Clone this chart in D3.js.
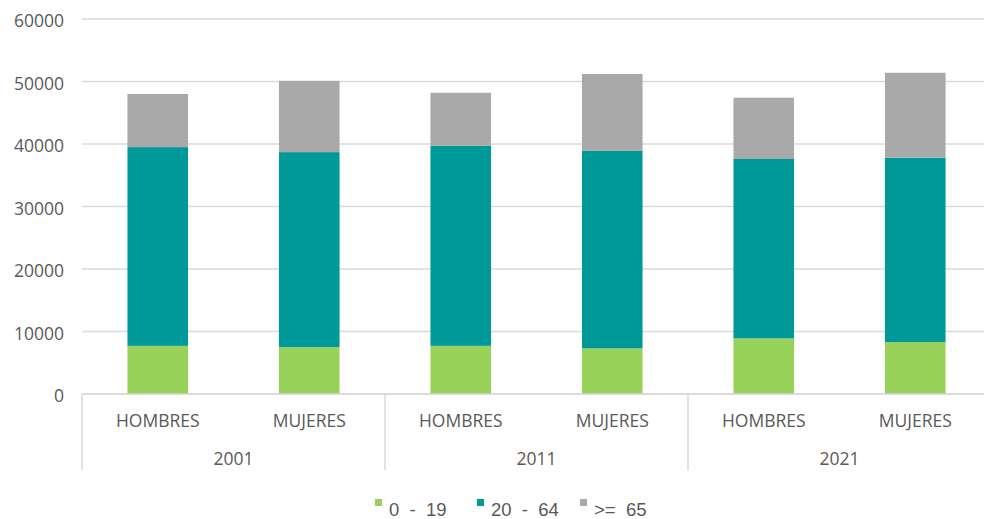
<!DOCTYPE html>
<html><head><meta charset="utf-8">
<script src="https://cdn.jsdelivr.net/npm/d3@7"></script>
<style>body{margin:0;background:#fff}svg{display:block}</style>
</head><body>
<svg id="c" width="984" height="519"></svg>
<script>
const years = ["2001","2011","2021"];
const sexes = ["HOMBRES","MUJERES"];
const categories = ["2001|HOMBRES","2001|MUJERES","2011|HOMBRES","2011|MUJERES","2021|HOMBRES","2021|MUJERES"];
const seriesNames = ["0 - 19","20 - 64",">= 65"];
const age0_19  = [7700, 7500, 7700, 7300, 8900, 8300];
const age20_64 = [31800, 31200, 32000, 31600, 28700, 29500];
const age65    = [8500, 11400, 8500, 12300, 9800, 13600];
const yTicks = [0,10000,20000,30000,40000,50000,60000];
const colors = ["#99d25a","#009999","#a9a9a9"];

const svg = d3.select("#c");
const left = 82, right = 991, y0 = 394, yTop = 19;
const x = d3.scaleBand().domain(categories).range([left,right]).paddingInner(0.6).paddingOuter(0.3);
const y = d3.scaleLinear().domain([0,60000]).range([y0,yTop]);

// gridlines
svg.append("g").selectAll("line").data(yTicks).join("line")
  .attr("x1",left).attr("x2",984).attr("y1",d=>y(d)).attr("y2",d=>y(d))
  .attr("stroke","#dadada").attr("stroke-width",1.5);

// y axis labels
const ya = svg.append("g").attr("transform",`translate(${left},0)`)
  .call(d3.axisLeft(y).tickValues(yTicks).tickSize(0).tickPadding(18).tickFormat(d3.format("d")));
ya.select(".domain").remove();
ya.selectAll("text").attr("font-family","Open Sans").attr("font-size",17.5).attr("fill","#595959").attr("dy","0.45em");

// stacked bars
const table = categories.map((c,i)=>({cat:c, "0 - 19":age0_19[i], "20 - 64":age20_64[i], ">= 65":age65[i]}));
const stack = d3.stack().keys(seriesNames)(table);
svg.append("g").selectAll("g").data(stack).join("g").attr("fill",(d,i)=>colors[i])
  .selectAll("rect").data(d=>d).join("rect")
  .attr("x",d=>x(d.data.cat)).attr("width",x.bandwidth())
  .attr("y",d=>y(d[1])).attr("height",d=>y(d[0])-y(d[1]));

// category axis lines
const axisG = svg.append("g");
axisG.append("line").attr("x1",left).attr("x2",984).attr("y1",y0).attr("y2",y0).attr("stroke","#d9d9d9").attr("stroke-width",1.5);
const step = x.step();
const seps = [0,1,2].map(i=>left + i*2*step);
axisG.selectAll("line.sep").data(seps).join("line").attr("class","sep")
  .attr("x1",d=>d).attr("x2",d=>d).attr("y1",y0).attr("y2",470).attr("stroke","#d9d9d9").attr("stroke-width",1.5);

// category labels
svg.append("g").selectAll("text").data(categories).join("text")
  .attr("x",d=>x(d)+x.bandwidth()/2).attr("y",427).attr("text-anchor","middle")
  .attr("font-family","Open Sans").attr("font-size",17.5).attr("fill","#595959")
  .text(d=>d.split("|")[1]);
svg.append("g").selectAll("text").data(years).join("text")
  .attr("x",(d,i)=>left + (2*i+1)*step).attr("y",465).attr("text-anchor","middle")
  .attr("font-family","Open Sans").attr("font-size",17.5).attr("fill","#595959")
  .text(d=>d);

// legend
const legX = [375, 477, 580];
const lg = svg.append("g");
seriesNames.forEach((s,i)=>{
  lg.append("rect").attr("x",legX[i]).attr("y",499).attr("width",7).attr("height",7).attr("fill",colors[i]);
  lg.append("text").attr("x",legX[i]+14).attr("y",516)
    .attr("font-family","Liberation Sans, Arial").attr("font-size",18.5).attr("fill","#595959")
    .style("white-space","pre").text(s.replace(/ /g,"  ").replace(">=  ",">=  "));
});
</script>
</body></html>
